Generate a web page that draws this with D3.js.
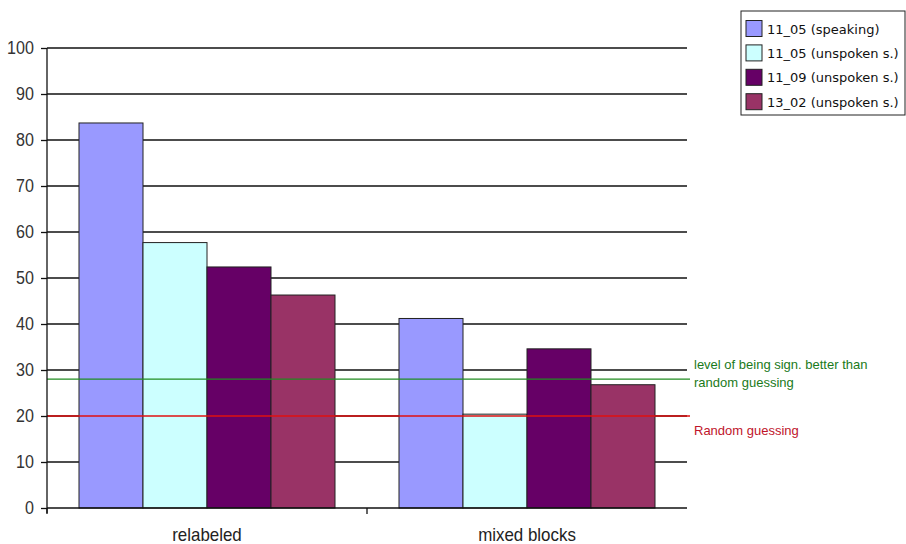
<!DOCTYPE html>
<html>
<head>
<meta charset="utf-8">
<script src="https://cdn.jsdelivr.net/npm/d3@7"></script>
<style>
  html, body { margin: 0; padding: 0; background: #fff; }
  svg { display: block; }
  text { font-family: "Liberation Sans", Arial, sans-serif; }
</style>
</head>
<body>
<svg id="chart" width="906" height="544"></svg>
<script>
// Categories, series and values
const categories = ["relabeled", "mixed blocks"];
const seriesNames = ["11_05 (speaking)", "11_05 (unspoken s.)", "11_09 (unspoken s.)", "13_02 (unspoken s.)"];
const seriesColors = ["#9999ff", "#ccffff", "#660066", "#993366"];
const relabeled = [83.7, 57.7, 52.4, 46.3];
const mixedBlocks = [41.2, 20.4, 34.6, 26.8];
const yTicks = [0, 10, 20, 30, 40, 50, 60, 70, 80, 90, 100];
const randomLevel = 20;
const significantLevel = 28;

const svg = d3.select("#chart");
const plot = { left: 47, right: 687, top: 48, bottom: 508 };

const x0 = d3.scaleBand().domain(categories).range([plot.left, plot.right]).paddingInner(0.2).paddingOuter(0.1);
const x1 = d3.scaleBand().domain(d3.range(seriesNames.length)).range([0, x0.bandwidth()]);
const y = d3.scaleLinear().domain([0, 100]).range([plot.bottom, plot.top]);

const rows = [relabeled, mixedBlocks];

// horizontal gridlines
svg.append("g")
  .selectAll("line")
  .data(yTicks.filter(d => d > 0))
  .join("line")
  .attr("x1", plot.left).attr("x2", plot.right)
  .attr("y1", d => y(d)).attr("y2", d => y(d))
  .attr("stroke", "#111").attr("stroke-width", 1.3);

// bars
const groups = svg.append("g")
  .selectAll("g")
  .data(categories)
  .join("g")
  .attr("transform", c => `translate(${x0(c)},0)`);

groups.selectAll("rect")
  .data((c, i) => rows[i].map((v, s) => ({ v, s })))
  .join("rect")
  .attr("x", d => x1(d.s))
  .attr("width", x1.bandwidth())
  .attr("y", d => y(d.v))
  .attr("height", d => y(0) - y(d.v))
  .attr("fill", d => seriesColors[d.s])
  .attr("stroke", "#222")
  .attr("stroke-width", 1);

// reference lines
svg.append("line")
  .attr("x1", plot.left).attr("x2", plot.right + 3)
  .attr("y1", y(significantLevel)).attr("y2", y(significantLevel))
  .attr("stroke", "#218c21").attr("stroke-width", 1.3);
svg.append("line")
  .attr("x1", plot.left).attr("x2", plot.right + 3)
  .attr("y1", y(randomLevel)).attr("y2", y(randomLevel))
  .attr("stroke", "#e01010").attr("stroke-width", 1.3);

svg.append("text")
  .attr("x", 694).attr("y", y(significantLevel) - 10)
  .attr("fill", "#1a7a1a").attr("font-size", 13)
  .text("level of being sign. better than");
svg.append("text")
  .attr("x", 694).attr("y", y(significantLevel) + 8)
  .attr("fill", "#1a7a1a").attr("font-size", 13)
  .text("random guessing");
svg.append("text")
  .attr("x", 694).attr("y", y(randomLevel) + 19)
  .attr("fill", "#c0142a").attr("font-size", 13)
  .text("Random guessing");

// y axis (labels slightly condensed)
const yAxis = d3.axisLeft(y).tickValues(yTicks).tickSize(6).tickPadding(9).tickFormat(d3.format("d"));
const gy = svg.append("g").attr("transform", `translate(${plot.left},0)`).call(yAxis);
gy.select(".domain").attr("stroke", "#111").attr("stroke-width", 1.3).attr("d", `M0,${plot.top}V${plot.bottom + 5}`);
gy.selectAll(".tick line").attr("stroke", "#111").attr("stroke-width", 1.3);
gy.selectAll(".tick text")
  .attr("font-size", 18.5).attr("fill", "#333")
  .attr("transform", "scale(0.87,1)")
  .style("font-family", '"Liberation Sans", Arial, sans-serif');

// x axis
const xAxis = d3.axisBottom(x0).tickSize(0).tickPadding(20);
const gx = svg.append("g").attr("transform", `translate(0,${plot.bottom})`).call(xAxis);
gx.select(".domain").attr("stroke", "#111").attr("stroke-width", 1.3).attr("d", `M${plot.left},0H${plot.right}`);
gx.selectAll(".tick text")
  .attr("font-size", 18).attr("fill", "#222")
  .attr("transform", "scale(0.94,1)")
  .style("font-family", '"Liberation Sans", Arial, sans-serif');
// category boundary ticks
const bounds = [plot.left, (x0(categories[0]) + x0.bandwidth() + x0(categories[1])) / 2];
svg.append("g").selectAll("line").data(bounds).join("line")
  .attr("x1", d => d).attr("x2", d => d)
  .attr("y1", plot.bottom).attr("y2", plot.bottom + 6)
  .attr("stroke", "#111").attr("stroke-width", 1.3);

// legend
const legend = svg.append("g");
legend.append("rect")
  .attr("x", 741).attr("y", 11).attr("width", 164).attr("height", 104)
  .attr("fill", "#fff").attr("stroke", "#222").attr("stroke-width", 1);
const items = legend.selectAll("g.item").data(seriesNames).join("g")
  .attr("class", "item")
  .attr("transform", (d, i) => `translate(746,${20.5 + i * 24.4})`);
items.append("rect")
  .attr("width", 16).attr("height", 16)
  .attr("fill", (d, i) => seriesColors[i])
  .attr("stroke", "#222").attr("stroke-width", 1);
items.append("text")
  .attr("x", 21).attr("y", 13)
  .attr("font-size", 13).attr("fill", "#111")
  .style("font-family", 'Tahoma, "DejaVu Sans", sans-serif')
  .text(d => d);
</script>
</body>
</html>
